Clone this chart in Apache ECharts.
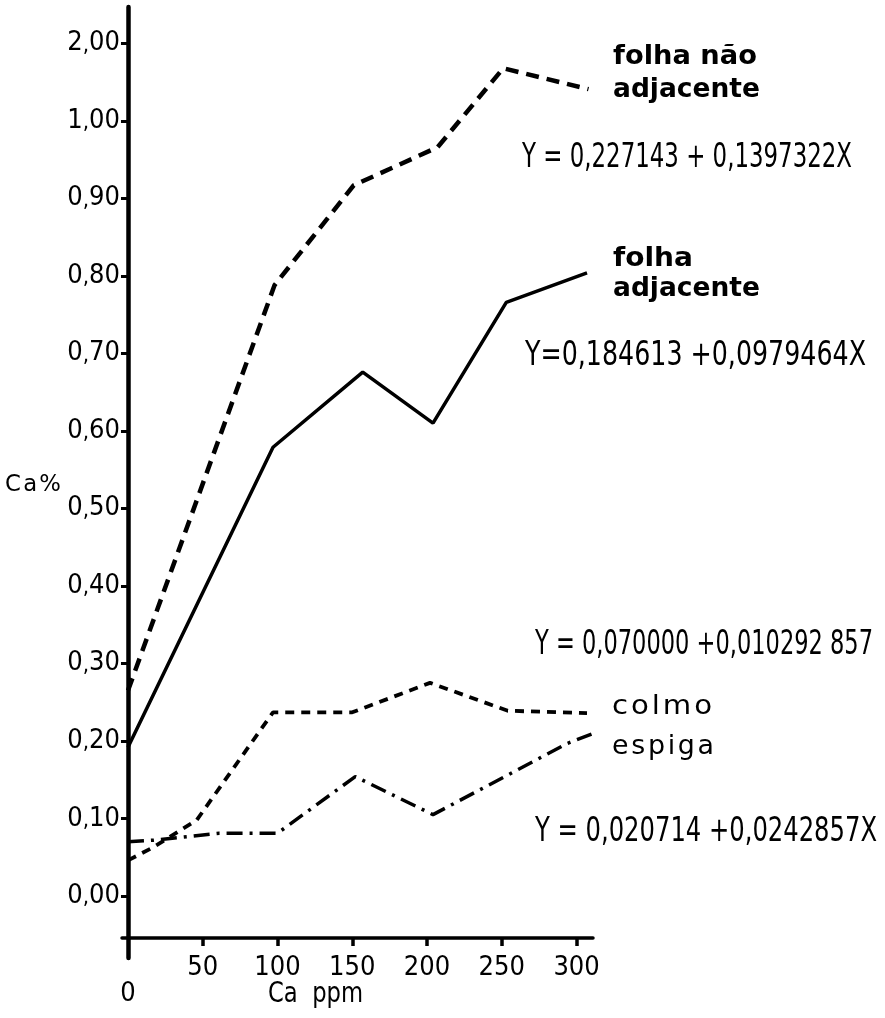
<!DOCTYPE html>
<html>
<head>
<meta charset="utf-8">
<script src="https://cdn.jsdelivr.net/npm/echarts@6/dist/echarts.min.js"></script>
<style>
html,body{margin:0;padding:0;background:#fff;}
#c{width:885px;height:1018px;}
</style>
</head>
<body>
<div id="c"></div>
<script>
// ---- data ----
const naoX = [0, 98, 151, 207, 251, 308];
const naoY = [0.265, 0.788, 0.917, 0.966, 1.068, 1.041];

const adjX = [0, 97, 157, 204, 253, 307];
const adjY = [0.192, 0.579, 0.676, 0.610, 0.766, 0.804];

const colmoX = [0, 17, 46, 97, 150, 202, 254, 307];
const colmoY = [0.046, 0.063, 0.098, 0.237, 0.237, 0.275, 0.239, 0.236];

const espigaX = [0, 17, 61, 100, 152, 204, 294, 310];
const espigaY = [0.070, 0.072, 0.081, 0.081, 0.154, 0.105, 0.197, 0.209];

const yTickValues = [0, 0.1, 0.2, 0.3, 0.4, 0.5, 0.6, 0.7, 0.8, 0.9, 1.0, 1.1];
const yTickLabels = ['0,00', '0,10', '0,20', '0,30', '0,40', '0,50', '0,60', '0,70', '0,80', '0,90', '1,00', '2,00'];
const xTickValues = [50, 100, 150, 200, 250, 300];
const xLabelValues = [0, 50, 100, 150, 200, 250, 300];

const labelNao = ['folha não', 'adjacente'];
const eqNao = 'Y = 0,227143 + 0,1397322X';
const labelAdj = ['folha', 'adjacente'];
const eqAdj = 'Y=0,184613 +0,0979464X';
const eqColmo = 'Y = 0,070000 +0,010292 857';
const labelColmo = 'colmo';
const labelEspiga = 'espiga';
const eqEspiga = 'Y = 0,020714 +0,0242857X';
const yName = 'Ca%';
const xName = 'Ca  ppm';

function pairs(xs, ys) { return xs.map((x, i) => [x, ys[i]]); }

const FONT = '"Liberation Sans Narrow", "DejaVu Sans Condensed", "Liberation Sans", sans-serif';
const LFONT = '"DejaVu Sans", "Liberation Sans", sans-serif';

const mctx = document.createElement('canvas').getContext('2d');
function spaced(s) { return s.split('').join('\u200A'); }
// text fitted horizontally to a target width
function fit(text, x, y, size, family, weight, targetW, sy) {
  const font = weight + ' ' + size + 'px ' + family;
  mctx.font = font;
  const w = mctx.measureText(text).width;
  return {
    type: 'text', x: x, y: y, scaleX: targetW / w, scaleY: sy || 1,
    style: { text: text, fill: '#000', font: font, verticalAlign: 'middle', textVerticalAlign: 'middle' }
  };
}

function yLabel(v) {
  const s = yTickLabels[Math.round(v * 10)];
  const p = s.split(',');
  return '{d|' + p[0] + '}{c|,}{d|' + p[1] + '}';
}

const chart = echarts.init(document.getElementById('c'));

const option = {
  backgroundColor: '#fff',
  animation: false,
  grid: { left: 122, right: 292, top: 7, bottom: 60 },
  xAxis: {
    type: 'value', min: -4, max: 311,
    offset: -20,
    axisLine: { onZero: false, lineStyle: { color: '#000', width: 3.5 } },
    axisTick: { customValues: xTickValues, length: 8, lineStyle: { color: '#000', width: 3.5 } },
    axisLabel: {
      customValues: xLabelValues, color: '#000', fontFamily: FONT, fontSize: 27, margin: 16,
      formatter: function (v) { return v === 0 ? '{z|0}' : String(v); },
      rich: { z: { fontFamily: FONT, fontSize: 27, color: '#000', padding: [26, 0, 0, 0] } }
    },
    splitLine: { show: false }
  },
  yAxis: {
    type: 'value', min: -0.080, max: 1.147,
    axisLine: { onZero: true, lineStyle: { color: '#000', width: 4.5 } },
    axisTick: { customValues: yTickValues, length: 7, lineStyle: { color: '#000', width: 3 } },
    axisLabel: {
      customValues: yTickValues, color: '#000', margin: 2,
      formatter: yLabel,
      rich: {
        d: { fontFamily: FONT, fontSize: 27, color: '#000' },
        c: { fontFamily: FONT, fontSize: 22, color: '#000', verticalAlign: 'bottom', padding: [4, 0, 0, 0] }
      }
    },
    splitLine: { show: false }
  },
  series: [
    { type: 'line', data: pairs(naoX, naoY), symbol: 'none',
      lineStyle: { color: '#000', width: 4.5, type: [13, 8], cap: 'butt' } },
    { type: 'line', data: pairs(adjX, adjY), symbol: 'none',
      lineStyle: { color: '#000', width: 3.5, type: 'solid' } },
    { type: 'line', data: pairs(colmoX, colmoY), symbol: 'none',
      lineStyle: { color: '#000', width: 3.8, type: [9, 7], cap: 'butt' } },
    { type: 'line', data: pairs(espigaX, espigaY), symbol: 'none',
      lineStyle: { color: '#000', width: 3.5, type: [16, 7, 3, 7], cap: 'butt' } }
  ],
  graphic: [
    fit(labelNao[0], 613, 57, 25, LFONT, 'bold', 144, 1.05),
    fit(labelNao[1], 613, 90, 25, LFONT, 'bold', 147, 1.05),
    fit(eqNao, 522, 158, 33, FONT, 'normal', 330, 1),
    fit(labelAdj[0], 613, 259, 25, LFONT, 'bold', 80, 1.05),
    fit(labelAdj[1], 613, 289, 25, LFONT, 'bold', 147, 1.05),
    fit(eqAdj, 525, 356, 33, FONT, 'normal', 341, 1),
    fit(eqColmo, 535, 645, 33, FONT, 'normal', 338, 1),
    fit(spaced(labelColmo), 612, 707, 26, LFONT, 'normal', 100, 1.05),
    fit(spaced(labelEspiga), 612, 747, 26, LFONT, 'normal', 102, 1.05),
    fit(eqEspiga, 535, 832, 33, FONT, 'normal', 342, 1),
    fit(spaced(yName), 5, 485, 22, LFONT, 'normal', 56, 1.05),
    fit(xName, 268, 995, 27, LFONT, 'normal', 95, 1.05)
  ]
};
chart.setOption(option);
</script>
</body>
</html>
